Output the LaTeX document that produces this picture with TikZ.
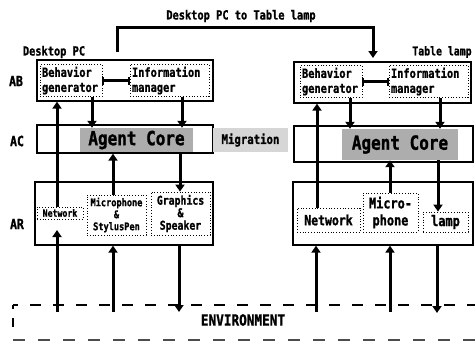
\documentclass[tikz,border=0pt]{standalone}
\usepackage{fontspec}
\newfontfamily\mf[FakeStretch=0.82,FakeBold=1.2]{DejaVu Sans Mono}
\usetikzlibrary{arrows.meta}
\newcommand{\fsz}[2]{\fontsize{#1}{#2}\selectfont}
\begin{document}
\begin{tikzpicture}[x=1pt,y=-1pt,
  outerbox/.style={draw, line width=1.3pt, rectangle, inner sep=0pt},
  innerbox/.style={draw, dotted, line width=0.8pt, rectangle, inner sep=2pt},
  corebox/.style={fill=black!32, rectangle, inner sep=0pt, font=\mf\bfseries\fsz{19.5}{20}},
  migbox/.style={fill=black!16, rectangle, inner sep=0pt, font=\mf\bfseries\fsz{13}{14}},
  txt/.style={font=\mf\bfseries\fsz{12.6}{15}, inner sep=0pt},
  lay/.style={font=\mf\bfseries\fsz{14}{15}, inner sep=0pt},
  arr/.style={line width=3pt, -{Triangle[width=9pt,length=7pt]}},
  link/.style={line width=2.6pt, {Bar[width=8pt,line width=1.6pt]}-{Bar[width=8pt,line width=1.6pt]}},
  envline/.style={line width=1.6pt}
]
\useasboundingbox (0,0) rectangle (475,341);

% ---------- titles ----------
\node[txt] (title) at (241,16) {Desktop PC to Table lamp};
\node[txt] (dpc) at (54,52) {Desktop PC};
\node[txt, font=\mf\bfseries\fsz{12}{14}] (tl) at (442,52) {Table lamp};
\node[lay] (labAB) at (16,81) {AB};
\node[lay] (labAC) at (17,141) {AC};
\node[lay] (labAR) at (17,224) {AR};

% ---------- left panel ----------
\node[outerbox, minimum width=176, minimum height=41] (ABL) at (125,80.5) {};
\node[innerbox, minimum height=31, text width=58, align=left, txt, inner sep=2pt] (BGL) at (71,80.5) {Behavior\\generator};
\node[innerbox, minimum height=31, text width=75, align=left, txt, inner sep=2pt] (IML) at (169.5,80.5) {Information\\manager};
\node[outerbox, minimum width=176, minimum height=28] (ACL) at (125,139) {};
\node[corebox, minimum width=113, minimum height=24] (CoreL) at (136.5,140) {Agent Core};
\node[outerbox, minimum width=178, minimum height=63] (ARL) at (124,213.5) {};
\node[innerbox, minimum width=46, minimum height=12, inner sep=0pt, font=\mf\bfseries\fsz{10}{11}] (NetL) at (60,213) {Network};
\node[innerbox, minimum width=59, minimum height=40, inner sep=0pt, align=center, font=\mf\bfseries\fsz{10.5}{12}] (MicL) at (116.5,215) {Microphone\\\&\\StylusPen};
\node[innerbox, minimum width=59, minimum height=43, inner sep=0pt, align=center, font=\mf\bfseries\fsz{12}{12.5}] (GraL) at (180.5,213.5) {Graphics\\\&\\Speaker};

% ---------- right panel ----------
\node[outerbox, minimum width=177, minimum height=41] (ABR) at (382.5,82.5) {};
\node[innerbox, minimum height=31, text width=58, align=left, txt, inner sep=2pt] (BGR) at (331,81.5) {Behavior\\generator};
\node[innerbox, minimum height=31, text width=75, align=left, txt, inner sep=2pt] (IMR) at (428.5,81.5) {Information\\manager};
\node[outerbox, minimum width=179, minimum height=36] (ACR) at (383.5,144) {};
\node[corebox, minimum width=116, minimum height=31] (CoreR) at (400,144.5) {Agent Core};
\node[outerbox, minimum width=180, minimum height=63] (ARR) at (383,213.5) {};
\node[innerbox, minimum width=63, minimum height=24, inner sep=0pt, font=\mf\bfseries\fsz{14}{15}] (NetR) at (328.5,220) {Network};
\node[innerbox, minimum width=55, minimum height=39, inner sep=0pt, align=center, font=\mf\bfseries\fsz{14.5}{17}] (MicR) at (390.5,212.5) {Micro-\\phone};
\node[innerbox, minimum width=45, minimum height=20, inner sep=0pt, font=\mf\bfseries\fsz{14.5}{15}] (LampR) at (445.5,222) {lamp};

% ---------- migration ----------
\node[migbox, minimum width=75, minimum height=24] (mig) at (250.5,140) {Migration};

% ---------- environment ----------
\node[font=\mf\bfseries\fsz{15.5}{16}, inner sep=0pt] (env) at (243,320) {ENVIRONMENT};
\draw[envline, dash pattern=on 11pt off 12pt, dash phase=6pt] (13,305) -- (478,305);
\draw[envline, dash pattern=on 4pt off 9pt on 9pt off 20pt] (13,305) -- (13,340);
\draw[envline, black!70, line width=2pt, dash pattern=on 12pt off 13pt] (13,340) -- (478,340);

% ---------- x positions ----------
\coordinate (xa) at (57,0);
\coordinate (xb) at (92,0);
\coordinate (xc) at (182,0);
\coordinate (xd) at (113,0);
\coordinate (xe) at (180,0);
\coordinate (xf) at (179,0);
\coordinate (ya) at (317,0);
\coordinate (yb) at (350,0);
\coordinate (yc) at (440,0);
\coordinate (yd) at (390,0);
\coordinate (ye) at (438,0);
\coordinate (yf) at (316,0);
\coordinate (yg) at (437,0);

% ---------- top migration connector ----------
\coordinate (mstart) at (117.5,52);
\coordinate (mturn) at (373,27.5);
\coordinate (mend) at (373,58);
\draw[arr, line join=miter] (mstart) |- (mturn) -- (mend);

% ---------- links inside AB ----------
\draw[link] (BGL.east) -- (IML.west);
\draw[link] (BGR.east) -- (IMR.west);

% ---------- left arrows ----------
\draw[arr] (NetL.north -| xa) -- (ABL.south -| xa);
\draw[arr] (BGL.south -| xb) -- (CoreL.north -| xb);
\draw[arr] (IML.south -| xc) -- (CoreL.north -| xc);
\draw[arr] (MicL.north -| xd) -- (ACL.south -| xd);
\draw[arr] (ACL.south -| xe) -- (GraL.north -| xe);
\coordinate (ea) at (57,312);
\coordinate (ta) at (57,230);
\coordinate (eb) at (113,312);
\coordinate (ec) at (179,312);
\draw[arr] (ea) -- (ta);
\draw[arr] (eb) -- (ARL.south -| xd);
\draw[arr] (ARL.south -| xf) -- (ec);

% ---------- right arrows ----------
\draw[arr] (NetR.north -| ya) -- (ABR.south -| ya);
\draw[arr] (BGR.south -| yb) -- (CoreR.north -| yb);
\draw[arr] (IMR.south -| yc) -- (CoreR.north -| yc);
\draw[arr] (MicR.north -| yd) -- (CoreR.south -| yd);
\draw[arr] (CoreR.south -| ye) -- (LampR.north -| ye);
\coordinate (ra) at (316,312);
\coordinate (rb) at (390,312);
\coordinate (rc) at (437,313);
\draw[arr] (ra) -- (ARR.south -| yf);
\draw[arr] (rb) -- (ARR.south -| yd);
\draw[arr] (ARR.south -| yg) -- (rc);
\end{tikzpicture}
\end{document}
